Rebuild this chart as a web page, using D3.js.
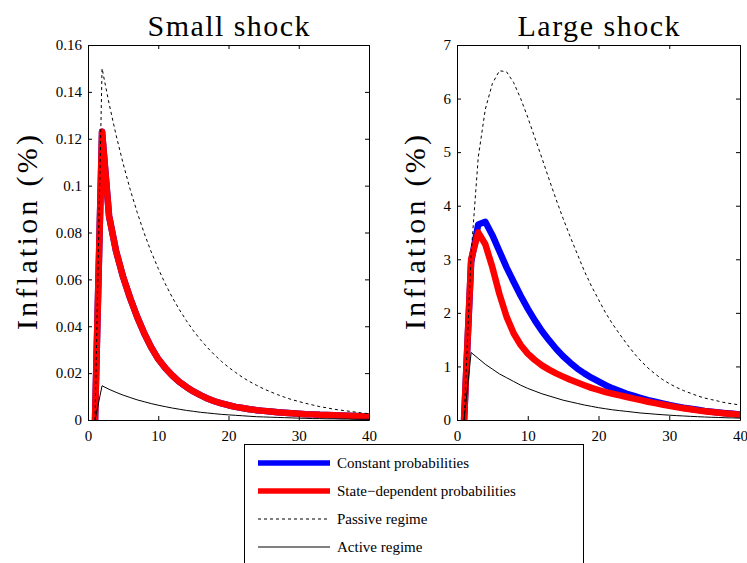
<!doctype html>
<html>
  <head>
    <script src="https://cdn.jsdelivr.net/npm/d3@7/dist/d3.min.js"></script>
    <style>
      body { margin: 0; background: #fff; }
      .axis path, .axis line { stroke: #000; stroke-width: 1; }
    </style>
  </head>
  <body>
    <svg id="chart" width="747" height="563"></svg>
    <script>
      var serif = "'Liberation Serif', 'Times New Roman', serif";

      // periods 1..40
      var periods = d3.range(1, 41);
      var xTicks = [0, 10, 20, 30, 40];

      var smallTicks = [0, 0.02, 0.04, 0.06, 0.08, 0.1, 0.12, 0.14, 0.16];
      var largeTicks = [0, 1, 2, 3, 4, 5, 6, 7];

      // small shock
      var smallConstant = [0, 0.123, 0.087, 0.072, 0.061, 0.052, 0.044, 0.037, 0.031, 0.026,
        0.0222, 0.0190, 0.0163, 0.0141, 0.0122, 0.0106, 0.0092, 0.0080, 0.0071, 0.0063,
        0.0056, 0.0051, 0.0046, 0.0042, 0.0039, 0.0036, 0.0033, 0.0031, 0.0029, 0.0027,
        0.0025, 0.0024, 0.0022, 0.0021, 0.0020, 0.0019, 0.0018, 0.0017, 0.0016, 0.0015];
      var smallState = [0, 0.123, 0.087, 0.072, 0.061, 0.052, 0.044, 0.037, 0.031, 0.026,
        0.0222, 0.0190, 0.0163, 0.0141, 0.0122, 0.0106, 0.0092, 0.0080, 0.0071, 0.0063,
        0.0056, 0.0051, 0.0046, 0.0042, 0.0039, 0.0036, 0.0033, 0.0031, 0.0029, 0.0027,
        0.0025, 0.0024, 0.0022, 0.0021, 0.0020, 0.0019, 0.0018, 0.0017, 0.0016, 0.0015];
      var smallPassive = [0, 0.150, 0.135, 0.1215, 0.1094, 0.0984, 0.0886, 0.0797, 0.0717, 0.0646,
        0.0581, 0.0523, 0.0471, 0.0424, 0.0381, 0.0343, 0.0309, 0.0278, 0.0250, 0.0225,
        0.0203, 0.0182, 0.0164, 0.0148, 0.0133, 0.0120, 0.0108, 0.0097, 0.0087, 0.0079,
        0.0071, 0.0064, 0.0057, 0.0052, 0.0046, 0.0042, 0.0038, 0.0034, 0.0030, 0.0027];
      var smallActive = [0, 0.0146, 0.0131, 0.0118, 0.0106, 0.0096, 0.0086, 0.0078, 0.0070, 0.0063,
        0.0057, 0.0051, 0.0046, 0.0041, 0.0037, 0.0033, 0.0030, 0.0027, 0.0024, 0.0022,
        0.0020, 0.0018, 0.0016, 0.0014, 0.0013, 0.0012, 0.0011, 0.0010, 0.0009, 0.0008,
        0.0007, 0.0006, 0.0006, 0.0005, 0.0005, 0.0004, 0.0004, 0.0003, 0.0003, 0.0003];

      // large shock
      var largeConstant = [0, 2.95, 3.65, 3.7, 3.45, 3.15, 2.85, 2.58, 2.32, 2.08,
        1.86, 1.66, 1.49, 1.33, 1.19, 1.07, 0.96, 0.87, 0.79, 0.72,
        0.65, 0.59, 0.54, 0.49, 0.45, 0.41, 0.37, 0.34, 0.31, 0.28,
        0.255, 0.23, 0.21, 0.19, 0.17, 0.155, 0.14, 0.127, 0.115, 0.104];
      var largeState = [0, 3.0, 3.5, 3.28, 2.85, 2.35, 1.93, 1.62, 1.4, 1.24,
        1.12, 1.02, 0.94, 0.87, 0.81, 0.75, 0.7, 0.65, 0.6, 0.56,
        0.52, 0.49, 0.46, 0.43, 0.4, 0.37, 0.34, 0.315, 0.29, 0.265,
        0.24, 0.22, 0.2, 0.18, 0.163, 0.148, 0.134, 0.121, 0.11, 0.1];
      var largePassive = [0, 3.1, 4.9, 5.8, 6.28, 6.52, 6.5, 6.3, 6.0, 5.65,
        5.27, 4.89, 4.5, 4.12, 3.76, 3.42, 3.1, 2.78, 2.5, 2.25,
        2.0, 1.79, 1.6, 1.42, 1.25, 1.1, 0.97, 0.86, 0.76, 0.68,
        0.61, 0.55, 0.5, 0.45, 0.41, 0.38, 0.35, 0.32, 0.3, 0.28];
      var largeActive = [0, 1.26, 1.15, 1.04, 0.95, 0.86, 0.79, 0.72, 0.65, 0.59,
        0.54, 0.49, 0.45, 0.41, 0.37, 0.34, 0.31, 0.28, 0.255, 0.23,
        0.21, 0.19, 0.175, 0.16, 0.145, 0.13, 0.12, 0.109, 0.099, 0.09,
        0.082, 0.075, 0.068, 0.062, 0.056, 0.051, 0.047, 0.042, 0.039, 0.035];

      var legendNames = ["Constant probabilities", "State\u2212dependent probabilities",
        "Passive regime", "Active regime"];

      var styles = [
        {color: "#0000ff", width: 6.5, dash: null},
        {color: "#ff0000", width: 6.5, dash: null},
        {color: "#000", width: 1, dash: "3,3"},
        {color: "#000", width: 1, dash: null}
      ];

      var panels = [
        {title: "Small shock", x0: 88, x1: 369, yMax: 0.16, ticks: smallTicks, labelX: 37,
          series: [smallConstant, smallState, smallPassive, smallActive]},
        {title: "Large shock", x0: 457, x1: 740, yMax: 7, ticks: largeTicks, labelX: 425,
          series: [largeConstant, largeState, largePassive, largeActive]}
      ];

      var plotTop = 45, plotBottom = 420;
      var svg = d3.select("#chart");

      panels.forEach(function(p, pi) {
        var x = d3.scaleLinear().domain([0, 40]).range([p.x0, p.x1]);
        var y = d3.scaleLinear().domain([0, p.yMax]).range([plotBottom, plotTop]);
        var g = svg.append("g");

        var clipId = "clip" + pi;
        g.append("clipPath").attr("id", clipId)
          .append("rect")
            .attr("x", p.x0).attr("y", plotTop)
            .attr("width", p.x1 - p.x0).attr("height", plotBottom - plotTop);

        var line = d3.line()
          .x((d, i) => x(periods[i]))
          .y(d => y(d));

        p.series.forEach(function(s, si) {
          var st = styles[si];
          g.append("path")
            .datum(s)
            .attr("clip-path", "url(#" + clipId + ")")
            .attr("fill", "none")
            .attr("stroke", st.color)
            .attr("stroke-width", st.width)
            .attr("stroke-linejoin", "round")
            .attr("stroke-dasharray", st.dash)
            .attr("d", line);
        });

        // frame with inward ticks
        g.append("g").attr("class", "axis")
          .attr("transform", "translate(0," + plotBottom + ")")
          .call(d3.axisBottom(x).tickValues(xTicks).tickSizeInner(-4).tickSizeOuter(0).tickPadding(10));
        g.append("g").attr("class", "axis")
          .attr("transform", "translate(0," + plotTop + ")")
          .call(d3.axisTop(x).tickValues(xTicks).tickSizeInner(-4).tickSizeOuter(0).tickFormat(""));
        g.append("g").attr("class", "axis")
          .attr("transform", "translate(" + p.x0 + ",0)")
          .call(d3.axisLeft(y).tickValues(p.ticks).tickSizeInner(-4).tickSizeOuter(0).tickPadding(6)
            .tickFormat(d3.format("~g")));
        g.append("g").attr("class", "axis")
          .attr("transform", "translate(" + p.x1 + ",0)")
          .call(d3.axisRight(y).tickValues(p.ticks).tickSizeInner(-4).tickSizeOuter(0).tickFormat(""));

        g.append("text")
          .attr("x", (p.x0 + p.x1) / 2)
          .attr("y", 36)
          .attr("text-anchor", "middle")
          .style("font-family", serif)
          .style("font-size", "30px")
          .attr("textLength", 162)
          .attr("lengthAdjust", "spacing")
          .text(p.title);

        g.append("text")
          .attr("transform", "translate(" + p.labelX + "," + ((plotTop + plotBottom) / 2) + ") rotate(-90)")
          .attr("text-anchor", "middle")
          .style("font-family", serif)
          .style("font-size", "30px")
          .attr("textLength", 195)
          .attr("lengthAdjust", "spacing")
          .text("Inflation (%)");
      });

      svg.selectAll(".axis text")
        .style("font-family", serif)
        .style("font-size", "15px")
        .attr("fill", "#000");

      // legend
      var lg = svg.append("g");
      lg.append("rect")
        .attr("x", 244.5).attr("y", 444.5)
        .attr("width", 339).attr("height", 140)
        .attr("fill", "#fff").attr("stroke", "#000").attr("stroke-width", 1);

      var rowY = d3.scalePoint().domain(legendNames).range([463, 547]);
      legendNames.forEach(function(name, i) {
        var st = styles[i];
        lg.append("line")
          .attr("x1", 258).attr("x2", 330)
          .attr("y1", rowY(name)).attr("y2", rowY(name))
          .attr("stroke", st.color)
          .attr("stroke-width", st.width > 2 ? 5.5 : 1)
          .attr("stroke-dasharray", st.dash);
        lg.append("text")
          .attr("x", 337).attr("y", rowY(name))
          .attr("dy", "0.35em")
          .style("font-family", serif)
          .style("font-size", "15px")
          .text(name);
      });
    </script>
  </body>
</html>
